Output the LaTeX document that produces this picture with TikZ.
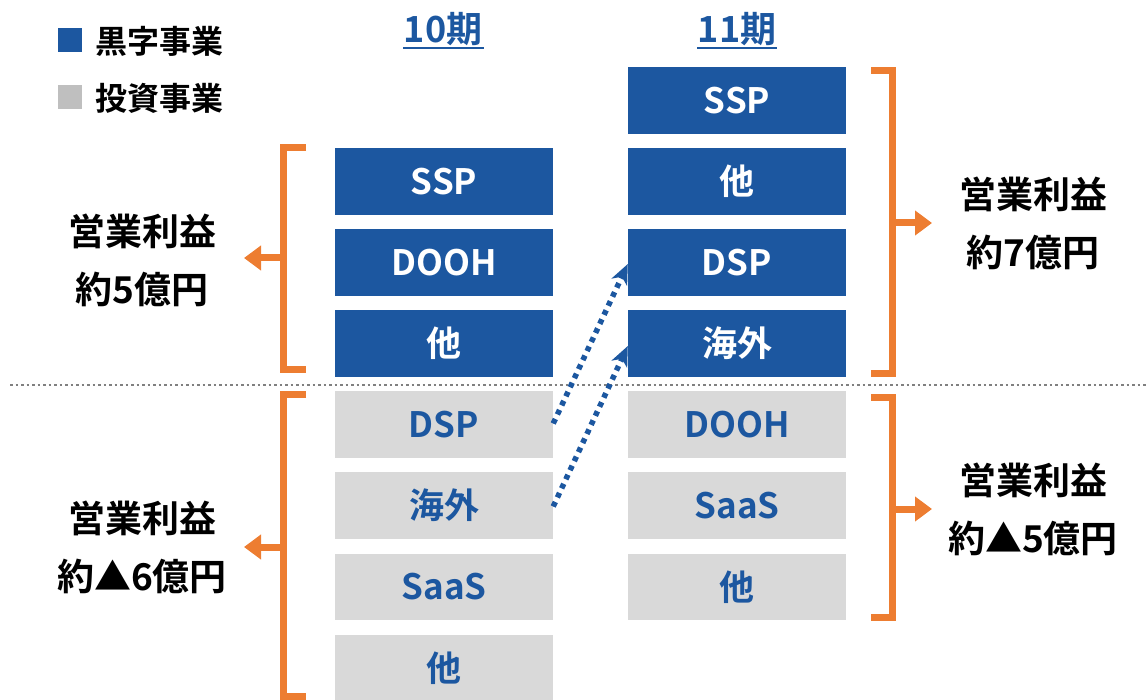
\documentclass[tikz,border=0pt]{standalone}
\usepackage{fontspec}
\setmainfont{Noto Sans CJK JP}[BoldFont={Noto Sans CJK JP Bold}]
\usetikzlibrary{arrows.meta}
\definecolor{cblue}{RGB}{28,87,160}
\definecolor{cgray}{RGB}{217,217,217}
\definecolor{lgray}{RGB}{191,191,191}
\definecolor{corange}{RGB}{237,125,49}
\definecolor{sepgray}{RGB}{128,128,128}
\tikzset{
  bbox/.style={fill=cblue, text=white, minimum width=218pt, minimum height=66.5pt, inner sep=0pt, font=\bfseries\fontsize{35}{35}\selectfont},
  gbox/.style={fill=cgray, text=cblue, minimum width=218pt, minimum height=66.5pt, inner sep=0pt, font=\bfseries\fontsize{35}{35}\selectfont},
  brack/.style={draw=corange, line width=7pt},
  barrow/.style={draw=corange, line width=7pt, -{Triangle[length=17pt,width=24pt]}},
  lbl/.style={align=center, font=\bfseries\fontsize{37}{58}\selectfont, text=black},
  hdr/.style={text=cblue, font=\bfseries\fontsize{36}{36}\selectfont, inner sep=0pt},
  leg/.style={anchor=west, font=\bfseries\fontsize{32}{32}\selectfont, inner sep=0pt},
  dotarrow/.style={draw=cblue, line width=5.5pt, dash pattern=on 5pt off 5pt, -{Stealth[length=20pt,width=17pt,inset=6pt]}},
}
\begin{document}
\begin{tikzpicture}[x=1pt,y=-1pt]
\useasboundingbox (0,0) rectangle (1147,700);
% legend
\node[fill=cblue, minimum size=24pt, inner sep=0pt] (lb) at (69.5,40) {};
\node[fill=lgray, minimum size=24pt, inner sep=0pt] (lg) at (69.5,97.5) {};
\node[leg] (lbt) at (95,41) {黒字事業};
\node[leg] (lgt) at (95,98) {投資事業};
% headers
\node[hdr] (h10) at (443,29) {10期};
\node[hdr] (h11) at (737,29) {11期};
\draw[cblue, line width=2pt] (403,48) -- (484,48);
\draw[cblue, line width=2pt] (697,48) -- (777,48);
% column 10
\node[bbox] (a1) at (444,181.5) {SSP};
\node[bbox] (a2) at (444,262.5) {DOOH};
\node[bbox] (a3) at (444,343.5) {他};
\node[gbox] (a4) at (444,424.5) {DSP};
\node[gbox] (a5) at (444,505.5) {海外};
\node[gbox] (a6) at (444,587) {SaaS};
\node[gbox] (a7) at (444,668) {他};
% column 11
\node[bbox] (b1) at (737,100.5) {SSP};
\node[bbox] (b2) at (737,181.5) {他};
\node[bbox] (b3) at (737,262.5) {DSP};
\node[bbox] (b4) at (737,343.5) {海外};
\node[gbox] (b5) at (737,424.5) {DOOH};
\node[gbox] (b6) at (737,505.5) {SaaS};
\node[gbox] (b7) at (737,587) {他};
% separator
\draw[sepgray, line width=2.5pt, dash pattern=on 2.5pt off 3pt] (10,385) -- (1147,385);
% dotted arrows
\draw[dotarrow] ([yshift=1pt]a4.east) -- ([yshift=-1.5pt]b3.west);
\draw[dotarrow] ([yshift=-1pt]a5.east) -- ([yshift=-2.5pt]b4.west);
% labels
\node[lbl] (L1) at (142,260) {営業利益\\約5億円};
\node[lbl] (L2) at (142,547) {営業利益\\約▲6億円};
\node[lbl] (R1) at (1033,223) {営業利益\\約7億円};
\node[lbl] (R2) at (1033,509) {営業利益\\約▲5億円};
% brackets
\draw[brack] (306,148) -- (283,148) -- (283,369.5) -- (306,369.5);
\draw[brack] (306,394.5) -- (283,394.5) -- (283,696.5) -- (306,696.5);
\draw[brack] (871,70.5) -- (892,70.5) -- (892,373.5) -- (871,373.5);
\draw[brack] (871,397.5) -- (892,397.5) -- (892,617.5) -- (871,617.5);
\coordinate (m1) at (283,258);
\coordinate (m2) at (283,547);
\coordinate (m3) at (892,223);
\coordinate (m4) at (892,509);
\coordinate (t1) at (244,258);
\coordinate (t2) at (244,547);
\coordinate (t3) at (932,223);
\coordinate (t4) at (932,509);
\draw[barrow] (m1) -- (t1);
\draw[barrow] (m2) -- (t2);
\draw[barrow] (m3) -- (t3);
\draw[barrow] (m4) -- (t4);
\end{tikzpicture}
\end{document}
